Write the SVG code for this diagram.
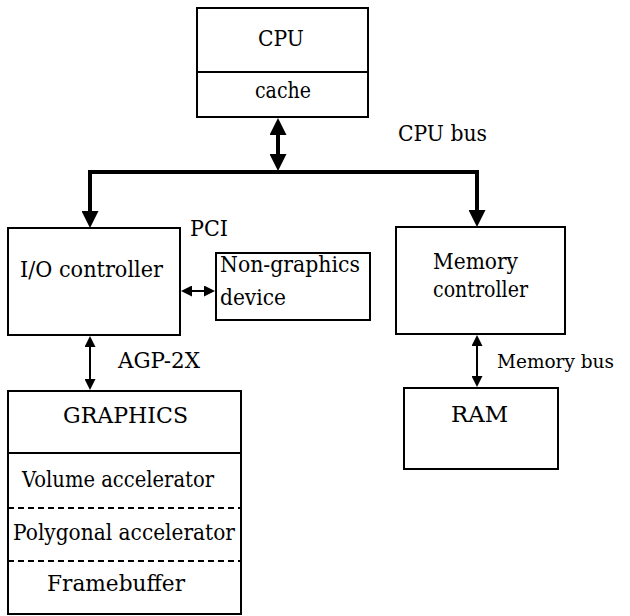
<svg xmlns="http://www.w3.org/2000/svg" width="630" height="616" viewBox="0 0 630 616" font-family="'DejaVu Serif', 'Liberation Serif', serif">
<style>
.box{fill:#fff;stroke:#000;stroke-width:2}
.div{fill:none;stroke:#000;stroke-width:2}
.dash{fill:none;stroke:#000;stroke-width:2;stroke-dasharray:6 4}
.t{font-size:22px;fill:#000}
.bus{fill:none;stroke:#000;stroke-width:4}
.thin{fill:none;stroke:#000;stroke-width:2}
</style>
<defs>
<marker id="big" viewBox="0 0 17 17" refX="9" refY="8.5" markerWidth="17" markerHeight="17" markerUnits="userSpaceOnUse" orient="auto-start-reverse">
<path d="M0,0 L17,8.5 L0,17 z" fill="#000"/>
</marker>
<marker id="small" viewBox="0 0 11 11" refX="6" refY="5.5" markerWidth="11" markerHeight="11" markerUnits="userSpaceOnUse" orient="auto-start-reverse">
<path d="M0,0 L11,5.5 L0,11 z" fill="#000"/>
</marker>
</defs>

<g id="connectors">
<line class="bus" x1="278" y1="126" x2="278" y2="163" marker-start="url(#big)" marker-end="url(#big)"/>
<path class="bus" d="M90,220 V172 H477 V219" marker-start="url(#big)" marker-end="url(#big)"/>
<line class="thin" x1="186" y1="291" x2="210" y2="291" marker-start="url(#small)" marker-end="url(#small)"/>
<line class="thin" x1="90" y1="341" x2="90" y2="385" marker-start="url(#small)" marker-end="url(#small)"/>
<line class="thin" x1="477" y1="340" x2="477" y2="382" marker-start="url(#small)" marker-end="url(#small)"/>
<text class="t" x="398" y="141" textLength="89" lengthAdjust="spacingAndGlyphs">CPU bus</text>
<text class="t" x="190" y="236" textLength="38" lengthAdjust="spacingAndGlyphs">PCI</text>
<text class="t" x="118" y="368" textLength="82" lengthAdjust="spacingAndGlyphs">AGP-2X</text>
<text class="t" x="497" y="368" font-size="19" style="font-size:19px" textLength="117" lengthAdjust="spacingAndGlyphs">Memory bus</text>
</g>

<g id="cpu">
<rect class="box" x="197" y="8" width="171" height="109"/>
<line class="div" x1="197" y1="72" x2="368" y2="72"/>
<text class="t" x="258" y="46" textLength="46" lengthAdjust="spacingAndGlyphs">CPU</text>
<text class="t" x="255" y="98" textLength="56" lengthAdjust="spacingAndGlyphs">cache</text>
</g>

<g id="io-controller">
<rect class="box" x="8" y="228" width="172" height="107"/>
<text class="t" x="20" y="277" textLength="143" lengthAdjust="spacingAndGlyphs">I/O controller</text>
</g>

<g id="non-graphics-device">
<rect class="box" x="216" y="253" width="154" height="67"/>
<text class="t" x="220" y="272" textLength="140" lengthAdjust="spacingAndGlyphs">Non-graphics</text>
<text class="t" x="220" y="305" textLength="66" lengthAdjust="spacingAndGlyphs">device</text>
</g>

<g id="memory-controller">
<rect class="box" x="396" y="227" width="169" height="107"/>
<text class="t" x="433" y="269" textLength="85" lengthAdjust="spacingAndGlyphs">Memory</text>
<text class="t" x="433" y="297" textLength="95" lengthAdjust="spacingAndGlyphs">controller</text>
</g>

<g id="ram">
<rect class="box" x="404" y="388" width="154" height="81"/>
<text class="t" x="451" y="422" textLength="57" lengthAdjust="spacingAndGlyphs">RAM</text>
</g>

<g id="graphics">
<rect class="box" x="8" y="391" width="233" height="223"/>
<line class="div" x1="8" y1="453" x2="241" y2="453"/>
<line class="dash" x1="8" y1="508" x2="241" y2="508"/>
<line class="dash" x1="8" y1="561" x2="241" y2="561"/>
<text class="t" x="63" y="423" textLength="125" lengthAdjust="spacingAndGlyphs">GRAPHICS</text>
<text class="t" x="22" y="487" textLength="192" lengthAdjust="spacingAndGlyphs">Volume accelerator</text>
<text class="t" x="13" y="540" textLength="222" lengthAdjust="spacingAndGlyphs">Polygonal accelerator</text>
<text class="t" x="47" y="591" textLength="138" lengthAdjust="spacingAndGlyphs">Framebuffer</text>
</g>
</svg>
